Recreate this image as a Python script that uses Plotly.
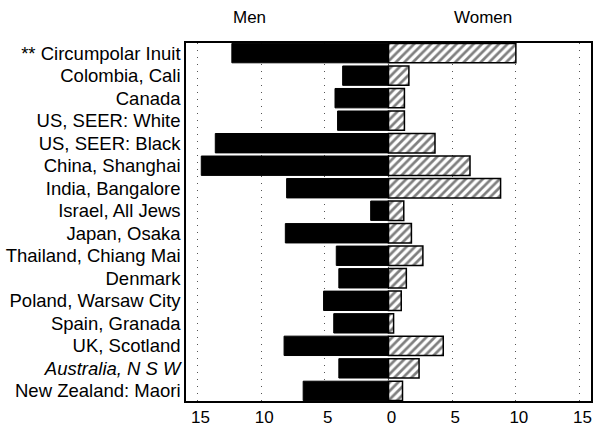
import plotly.graph_objects as go

# Registries, top to bottom
registries = [
    "** Circumpolar Inuit",
    "Colombia, Cali",
    "Canada",
    "US, SEER: White",
    "US, SEER: Black",
    "China, Shanghai",
    "India, Bangalore",
    "Israel, All Jews",
    "Japan, Osaka",
    "Thailand, Chiang Mai",
    "Denmark",
    "Poland, Warsaw City",
    "Spain, Granada",
    "UK, Scotland",
    "<i>Australia, N S W</i>",
    "New Zealand: Maori",
]

# Rates per 100 000
men = [12.3, 3.6, 4.2, 4.0, 13.6, 14.7, 8.0, 1.4, 8.1, 4.1, 3.9, 5.1, 4.3, 8.2, 3.9, 6.7]
women = [10.0, 1.6, 1.25, 1.25, 3.65, 6.4, 8.8, 1.2, 1.8, 2.7, 1.4, 1.0, 0.4, 4.3, 2.4, 1.1]

tick_vals = [-15, -10, -5, 0, 5, 10, 15]
tick_text = ["15", "10", "5", "0", "5", "10", "15"]

FONT = "Liberation Sans, Arial, Helvetica, sans-serif"

fig = go.Figure()

# Men drawn to the left of zero
fig.add_trace(go.Bar(
    y=registries,
    x=[-v for v in men],
    orientation="h",
    width=0.86,
    marker=dict(color="black", line=dict(color="black", width=1)),
    name="Men",
    showlegend=False,
))

# Women drawn to the right of zero, hatched
fig.add_trace(go.Bar(
    y=registries,
    x=women,
    orientation="h",
    width=0.86,
    marker=dict(
        color="white",
        line=dict(color="black", width=1.5),
        pattern=dict(shape="/", fgcolor="black", bgcolor="white",
                     size=6, solidity=0.45),
    ),
    name="Women",
    showlegend=False,
))

fig.update_layout(
    width=596,
    height=430,
    margin=dict(l=186, r=3, t=43, b=28),
    paper_bgcolor="white",
    plot_bgcolor="white",
    barmode="overlay",
    font=dict(family=FONT, size=17, color="black"),
    annotations=[
        dict(text="Men", x=-10.9, y=1.07, xref="x", yref="paper",
             yanchor="middle", showarrow=False,
             font=dict(size=17, family=FONT, color="black")),
        dict(text="Women", x=7.4, y=1.07, xref="x", yref="paper",
             yanchor="middle", showarrow=False,
             font=dict(size=17, family=FONT, color="black")),
    ],
)

fig.update_xaxes(
    range=[-15.9, 15.9],
    tickvals=tick_vals,
    ticktext=tick_text,
    tickfont=dict(size=17),
    ticklabelshift=3,
    ticks="",
    showgrid=True,
    gridcolor="#555555",
    gridwidth=1,
    griddash="1px,6px",
    zeroline=False,
    showline=True,
    linecolor="black",
    linewidth=1.5,
    mirror=True,
)

fig.update_yaxes(
    range=[15.45, -0.45],
    tickfont=dict(size=18.5),
    ticks="",
    showgrid=False,
    showline=True,
    linecolor="black",
    linewidth=1.5,
    mirror=True,
)

fig.write_html("out.html")
